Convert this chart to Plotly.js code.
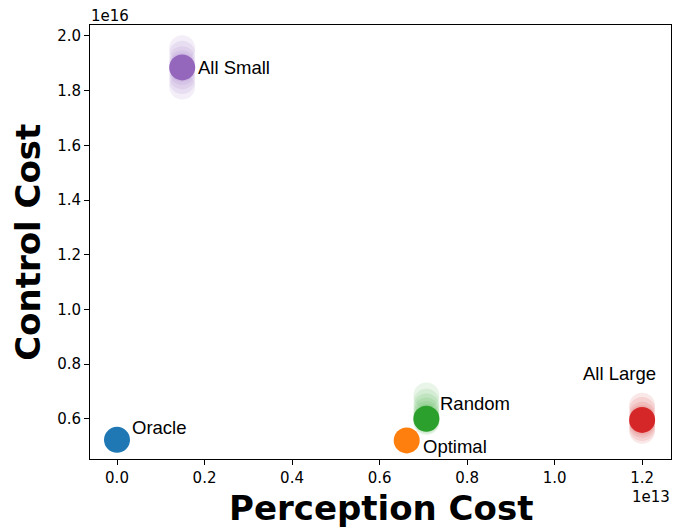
<!DOCTYPE html>
<html>
<head>
<meta charset="utf-8">
<script src="https://cdn.plot.ly/plotly-3.0.1.min.js"></script>
<style>html,body{margin:0;padding:0;background:#fff;}</style>
</head>
<body>
<div id="chart" style="width:688px;height:529px;"></div>
<script>
// Values in units of 1e13 (perception) and 1e16 (control)
const methods = ["Oracle", "Optimal", "Random", "All Small", "All Large"];
const colors = ["#1f77b4", "#ff7f0e", "#2ca02c", "#9467bd", "#d62728"];
const meanPerception = [0.0, 0.662, 0.707, 0.149, 1.20];
const meanControl = [0.523, 0.521, 0.600, 1.885, 0.596];

// individual trial results (faint markers)
const randomTrialsControl = [0.685, 0.662, 0.645, 0.630, 0.618, 0.607, 0.600, 0.594, 0.588];
const smallTrialsControl = [1.955, 1.935, 1.915, 1.900, 1.890, 1.880, 1.868, 1.852, 1.835, 1.815];
const largeTrialsControl = [0.648, 0.632, 0.615, 0.603, 0.596, 0.588, 0.578, 0.566, 0.556];

const xTicks = [0.0, 0.2, 0.4, 0.6, 0.8, 1.0, 1.2];
const yTicks = [0.6, 0.8, 1.0, 1.2, 1.4, 1.6, 1.8, 2.0];

const tickFont = {family: "DejaVu Sans", size: 15, color: "#000"};

function trials(idx, arr) {
  return {
    type: "scatter", mode: "markers",
    x: arr.map(() => meanPerception[idx]), y: arr,
    marker: {size: 26, color: colors[idx], opacity: 0.11, line: {width: 0}},
    hoverinfo: "skip", showlegend: false
  };
}

const traces = [
  trials(2, randomTrialsControl),
  trials(3, smallTrialsControl),
  trials(4, largeTrialsControl)
];
const drawOrder = [0, 2, 1, 3, 4];
drawOrder.forEach(i => {
  traces.push({
    type: "scatter", mode: "markers",
    x: [meanPerception[i]], y: [meanControl[i]],
    marker: {size: 26, color: colors[i], opacity: 1, line: {width: 0}},
    name: methods[i], showlegend: false
  });
});

const labelFont = {family: "Liberation Sans, Arial", size: 18.5, color: "#000"};
const labelPos = [
  {x: 0.031, y: 0.568, anchor: "left"},
  {x: 0.697, y: 0.499, anchor: "left"},
  {x: 0.736, y: 0.655, anchor: "left"},
  {x: 0.182, y: 1.883, anchor: "left"},
  {x: 1.149, y: 0.766, anchor: "center"}
];
const annotations = methods.map((m, i) => ({
  text: m, x: labelPos[i].x, y: labelPos[i].y, xref: "x", yref: "y",
  xanchor: labelPos[i].anchor, yanchor: "middle", showarrow: false,
  font: labelFont, borderpad: 0
}));
annotations.push(
  {text: "<b>Perception Cost</b>", xref: "paper", yref: "paper", x: 0.5, y: -0.113,
   xanchor: "center", yanchor: "middle", showarrow: false,
   font: {family: "DejaVu Sans", size: 34, color: "#000"}},
  {text: "<b>Control Cost</b>", xref: "paper", yref: "paper", x: -0.107, y: 0.5,
   xanchor: "center", yanchor: "middle", textangle: -90, showarrow: false,
   font: {family: "DejaVu Sans", size: 34, color: "#000"}},
  {text: "1e16", xref: "paper", yref: "paper", x: 0, y: 1.021,
   xanchor: "left", yanchor: "middle", showarrow: false, font: tickFont, borderpad: 0},
  {text: "1e13", xref: "paper", yref: "paper", x: 1, y: -0.088,
   xanchor: "right", yanchor: "middle", showarrow: false, font: tickFont, borderpad: 0}
);

const layout = {
  width: 688, height: 529,
  margin: {l: 90, r: 17, t: 25, b: 70},
  paper_bgcolor: "#fff", plot_bgcolor: "#fff",
  showlegend: false,
  xaxis: {
    range: [-0.0617, 1.266], tickvals: xTicks, ticktext: xTicks.map(v => v.toFixed(1)),
    showgrid: false, zeroline: false, showline: true, mirror: true,
    linecolor: "#000", linewidth: 1, ticks: "outside", ticklen: 5, tickcolor: "#000",
    tickfont: tickFont
  },
  yaxis: {
    range: [0.453, 2.04], tickvals: yTicks, ticktext: yTicks.map(v => v.toFixed(1)),
    showgrid: false, zeroline: false, showline: true, mirror: true,
    linecolor: "#000", linewidth: 1, ticks: "outside", ticklen: 5, tickcolor: "#000",
    tickfont: tickFont
  },
  annotations: annotations
};

Plotly.newPlot("chart", traces, layout, {displayModeBar: false, staticPlot: true});
</script>
</body>
</html>
